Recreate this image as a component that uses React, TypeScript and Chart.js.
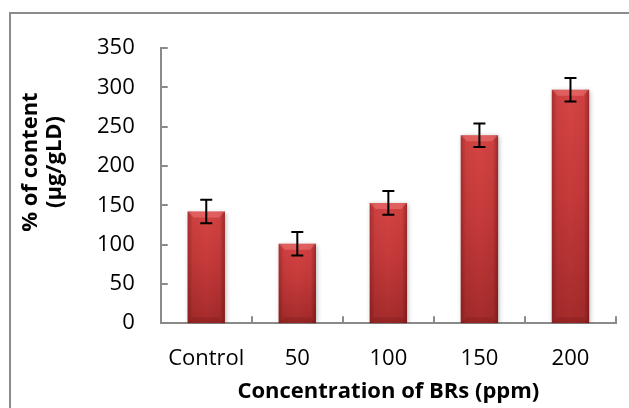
import React, { useEffect, useRef } from "react";
import { Chart, registerables } from "chart.js";

Chart.register(...registerables);

const categories = ["Control", "50", "100", "150", "200"];
const contentValues = [142, 101, 153, 239, 297];
const errorValues = [15, 15, 15, 15, 15];
const yTicks = [0, 50, 100, 150, 200, 250, 300, 350];
const xTitle = "Concentration of BRs (ppm)";
const yTitleLines = ["% of content", "(µg/gLD)"];

const FONT = "'Open Sans', 'DejaVu Sans', sans-serif";
const AXIS_GRAY = "#8a8a8a";

const framePlugin = {
  id: "frame",
  beforeDraw(chart: any) {
    const ctx = chart.ctx;
    ctx.save();
    ctx.fillStyle = "#ffffff";
    ctx.fillRect(0, 0, chart.width, chart.height);
    ctx.strokeStyle = "#8c8c8c";
    ctx.lineWidth = 2;
    ctx.beginPath();
    ctx.moveTo(10, chart.height + 2);
    ctx.lineTo(10, 13);
    ctx.lineTo(chart.width + 2, 13);
    ctx.stroke();
    ctx.restore();
  },
};

const shadowPlugin = {
  id: "barShadow",
  beforeDatasetsDraw(chart: any) {
    const ctx = chart.ctx;
    ctx.save();
    ctx.shadowColor = "rgba(0,0,0,0.35)";
    ctx.shadowBlur = 5;
    ctx.shadowOffsetX = 1;
    ctx.shadowOffsetY = 1;
  },
  afterDatasetsDraw(chart: any) {
    chart.ctx.restore();
  },
};

const decorPlugin = {
  id: "decor",
  afterDatasetsDraw(chart: any) {
    const ctx = chart.ctx;
    const yScale = chart.scales.y;
    const meta = chart.getDatasetMeta(0);
    meta.data.forEach((el: any, i: number) => {
      const { x, y, base, width } = el.getProps(["x", "y", "base", "width"], true);
      const L = x - width / 2;
      const R = x + width / 2;
      const T = y;
      const B = base;
      const b = 6;
      ctx.save();
      const hg = ctx.createLinearGradient(L, 0, R, 0);
      hg.addColorStop(0, "rgba(60,0,0,0.30)");
      hg.addColorStop(0.14, "rgba(60,0,0,0.05)");
      hg.addColorStop(0.5, "rgba(0,0,0,0)");
      hg.addColorStop(0.86, "rgba(60,0,0,0.05)");
      hg.addColorStop(1, "rgba(60,0,0,0.38)");
      ctx.fillStyle = hg;
      ctx.fillRect(L, T, R - L, B - T);
      ctx.fillStyle = "rgba(255,150,150,0.35)";
      ctx.beginPath();
      ctx.moveTo(L, T);
      ctx.lineTo(R, T);
      ctx.lineTo(R - b, T + b);
      ctx.lineTo(L + b, T + b);
      ctx.closePath();
      ctx.fill();
      ctx.fillStyle = "rgba(60,0,0,0.12)";
      ctx.beginPath();
      ctx.moveTo(L, B);
      ctx.lineTo(R, B);
      ctx.lineTo(R - b, B - b);
      ctx.lineTo(L + b, B - b);
      ctx.closePath();
      ctx.fill();
      ctx.restore();

      const v = contentValues[i];
      const e = errorValues[i];
      const yTop = yScale.getPixelForValue(v + e);
      const yBot = yScale.getPixelForValue(v - e);
      ctx.save();
      ctx.strokeStyle = "#000000";
      ctx.lineWidth = 2;
      ctx.beginPath();
      ctx.moveTo(x, yTop);
      ctx.lineTo(x, yBot);
      ctx.moveTo(x - 6, yTop);
      ctx.lineTo(x + 6, yTop);
      ctx.moveTo(x - 6, yBot);
      ctx.lineTo(x + 6, yBot);
      ctx.stroke();
      ctx.restore();
    });
  },
};

const ticksPlugin = {
  id: "innerTicks",
  afterDraw(chart: any) {
    const ctx = chart.ctx;
    const xs = chart.scales.x;
    const ys = chart.scales.y;
    const area = chart.chartArea;
    ctx.save();
    ctx.strokeStyle = AXIS_GRAY;
    ctx.lineWidth = 2;
    ctx.beginPath();
    ys.ticks.forEach((t: any) => {
      const py = Math.round(ys.getPixelForValue(t.value));
      ctx.moveTo(area.left, py);
      ctx.lineTo(area.left + 7, py);
    });
    const n = categories.length;
    for (let i = 0; i <= n; i++) {
      let px: number;
      if (i === 0) px = area.left;
      else if (i === n) px = area.right;
      else px = (xs.getPixelForValue(i - 1) + xs.getPixelForValue(i)) / 2;
      px = Math.round(px);
      ctx.moveTo(px, area.bottom);
      ctx.lineTo(px, area.bottom - 7);
    }
    ctx.stroke();
    ctx.restore();

    ctx.save();
    ctx.fillStyle = "#000000";
    ctx.font = `bold 22px ${FONT}`;
    ctx.textAlign = "center";
    ctx.textBaseline = "middle";
    const xs2 = [31, 55];
    yTitleLines.forEach((line, k) => {
      ctx.save();
      ctx.translate(xs2[k], 162);
      ctx.rotate(-Math.PI / 2);
      ctx.fillText(line, 0, 0);
      ctx.restore();
    });
    ctx.restore();
  },
};

export default function App() {
  const canvasRef = useRef<HTMLCanvasElement | null>(null);

  useEffect(() => {
    const canvas = canvasRef.current;
    if (!canvas) return;
    const chart = new Chart(canvas, {
      type: "bar",
      data: {
        labels: categories,
        datasets: [
          {
            data: contentValues,
            barPercentage: 0.41,
            categoryPercentage: 1,
            borderWidth: 0,
            backgroundColor: (c: any) => {
              const ch = c.chart;
              if (!ch.chartArea || c.type !== "data") return "#c43b3b";
              const ys = ch.scales.y;
              const top = ys.getPixelForValue(c.raw);
              const bottom = ys.getPixelForValue(0);
              const g = ch.ctx.createLinearGradient(0, top, 0, bottom);
              g.addColorStop(0, "#d64444");
              g.addColorStop(0.45, "#c63a3a");
              g.addColorStop(1, "#a52b2b");
              return g;
            },
          },
        ],
      },
      options: {
        responsive: false,
        maintainAspectRatio: false,
        animation: false,
        layout: { padding: { left: 71, right: 13, top: 48, bottom: 3 } },
        plugins: {
          legend: { display: false },
          tooltip: { enabled: false },
          title: { display: false },
        },
        scales: {
          x: {
            type: "category",
            offset: true,
            grid: { display: false, drawTicks: false, tickLength: 0 },
            border: { display: true, color: AXIS_GRAY, width: 2 },
            ticks: {
              color: "#000000",
              font: { family: FONT, size: 22 },
              padding: 22,
              maxRotation: 0,
            },
            title: {
              display: true,
              text: xTitle,
              color: "#000000",
              font: { family: FONT, size: 22, weight: "bold" },
              padding: { top: -15, bottom: 0 },
            },
          },
          y: {
            min: 0,
            max: 350,
            grid: { display: false, drawTicks: false, tickLength: 0 },
            border: { display: true, color: AXIS_GRAY, width: 2 },
            afterBuildTicks: (scale: any) => {
              scale.ticks = yTicks.map((v) => ({ value: v }));
            },
            ticks: {
              color: "#000000",
              font: { family: FONT, size: 22 },
              padding: 26,
            },
          },
        },
      },
      plugins: [framePlugin, shadowPlugin, decorPlugin, ticksPlugin],
    } as any);
    return () => chart.destroy();
  }, []);

  return (
    <div style={{ position: "absolute", left: 0, top: 0, width: 629, height: 408, background: "#fff" }}>
      <canvas ref={canvasRef} width={629} height={408} style={{ display: "block", width: 629, height: 408 }} />
    </div>
  );
}
